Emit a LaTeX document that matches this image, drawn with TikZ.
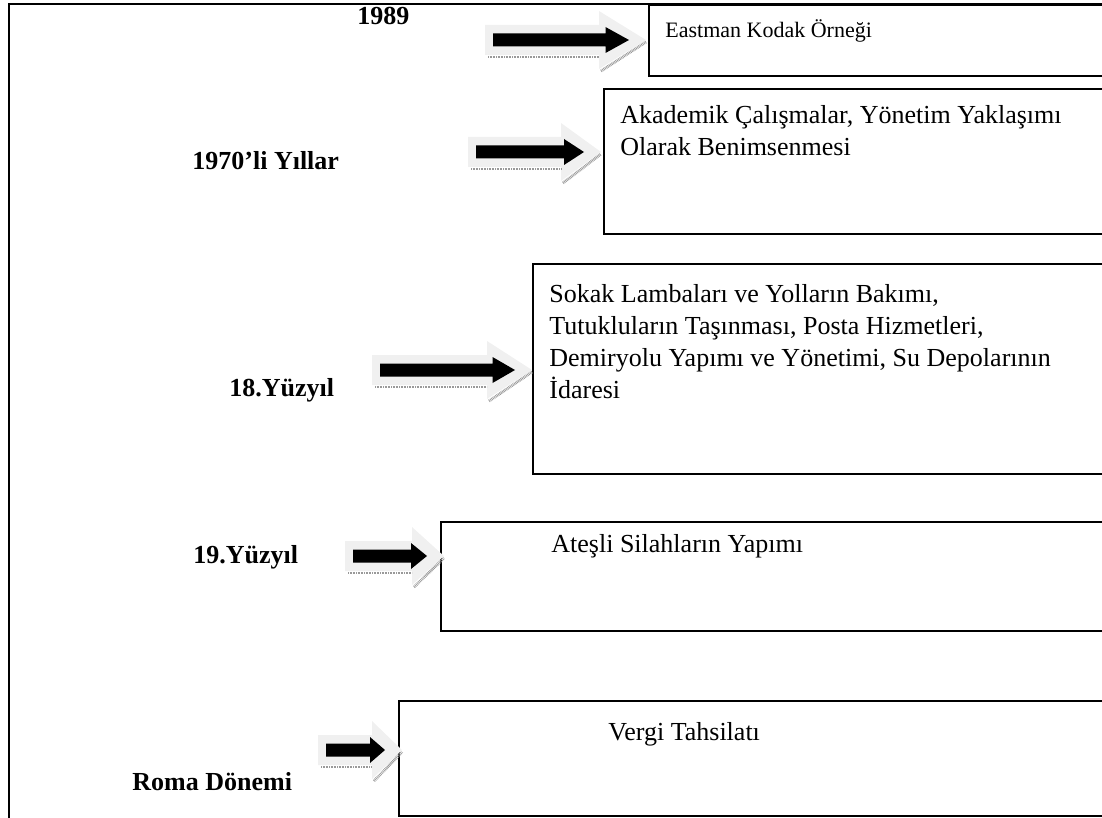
\documentclass[tikz,border=0pt]{standalone}
\usepackage{fontspec}
\setmainfont{Liberation Serif}
% block arrow: light halo, dotted drop shadow and a black arrow on top
% #1 start x, #2 tip x, #3 centre y, #4 head length of the halo
\newcommand\shadedarrow[4]{%
  \pgfmathsetmacro\hb{#2-#4}%
  \pgfmathsetmacro\bt{#2-17}%
  \pgfmathsetmacro\bb{\bt-0.5*#4}%
  \fill[arrowhalo] (#1,#3-15) -- (\hb,#3-15) -- (\hb,#3-29) -- (#2,#3)
     -- (\hb,#3+29) -- (\hb,#3+15) -- (#1,#3+15) -- cycle;
  \draw[arrowshadow] (#1+3,#3+17) -- (\hb,#3+17);
  \draw[arrowshadow] (\hb+2,#3+31) -- (#2,#3+2);
  \fill[black] (#1+8,#3-6.5) -- (\bb,#3-6.5) -- (\bb,#3-13) -- (\bt,#3)
     -- (\bb,#3+13) -- (\bb,#3+6.5) -- (#1+8,#3+6.5) -- cycle;
}
\begin{document}
\begin{tikzpicture}[x=0.5pt,y=-0.5pt,
  frame/.style={line width=1pt},
  box/.style={draw, line width=1pt, anchor=north west, inner sep=0pt},
  era/.style={font=\fontsize{13}{16}\selectfont\bfseries, inner sep=0pt, anchor=base west},
  note/.style={font=\fontsize{13}{16}\selectfont, inner sep=0pt, anchor=base west},
  arrowhalo/.style={fill=black!6},
  arrowshadow/.style={draw=black!40, line width=1.4pt, dash pattern=on 0.4pt off 0.4pt}]
\useasboundingbox (0,0) rectangle (1102,818);

\begin{scope}
  \clip (0,0) rectangle (1102,818);
  % outer frame: top and left edges only
  \draw[frame] (9,840) -- (9,4) -- (1130,4);
  % boxes run past the right edge
  \node[box, minimum width=250pt, minimum height=35.5pt] (b1) at (648,4) {};
  \node[box, minimum width=270pt, minimum height=72.5pt] (b2) at (603,88) {};
  \node[box, minimum width=310pt, minimum height=105pt] (b3) at (532,263) {};
  \node[box, minimum width=360pt, minimum height=54.5pt] (b4) at (440,521) {};
  \node[box, minimum width=380pt, minimum height=57.5pt] (b5) at (398,700) {};
\end{scope}

% arrows
\shadedarrow{485}{646}{40}{47}
\shadedarrow{468}{601}{152}{40}
\shadedarrow{372}{532}{370}{45}
\shadedarrow{345}{444}{556}{32}
\shadedarrow{318}{402}{750}{30}

% periods
\node[era] (y1989) at (357,25) {1989};
\node[era] (y1970) at (192,170) {1970’li Yıllar};
\node[era] (y18) at (229,396) {18.Yüzyıl};
\node[era] (y19) at (193,563) {19.Yüzyıl};
\node[era] (yroma) at (132,790) {Roma Dönemi};

% box texts (a \vtop keeps the base anchor on the first line)
\node[note, font=\fontsize{11}{14}\selectfont] (t1) at (665,38) {Eastman Kodak Örneği};
\node[note] (t2) at (620,124) {\vtop{\hbox{Akademik Çalışmalar, Yönetim Yaklaşımı}\hbox{Olarak Benimsenmesi}}};
\node[note] (t3) at (549,302) {\vtop{\hbox{Sokak Lambaları ve Yolların Bakımı,}\hbox{Tutukluların Taşınması, Posta Hizmetleri,}\hbox{Demiryolu Yapımı ve Yönetimi, Su Depolarının}\hbox{İdaresi}}};
\node[note] (t4) at (551,552) {Ateşli Silahların Yapımı};
\node[note] (t5) at (608,740) {Vergi Tahsilatı};
\end{tikzpicture}
\end{document}
